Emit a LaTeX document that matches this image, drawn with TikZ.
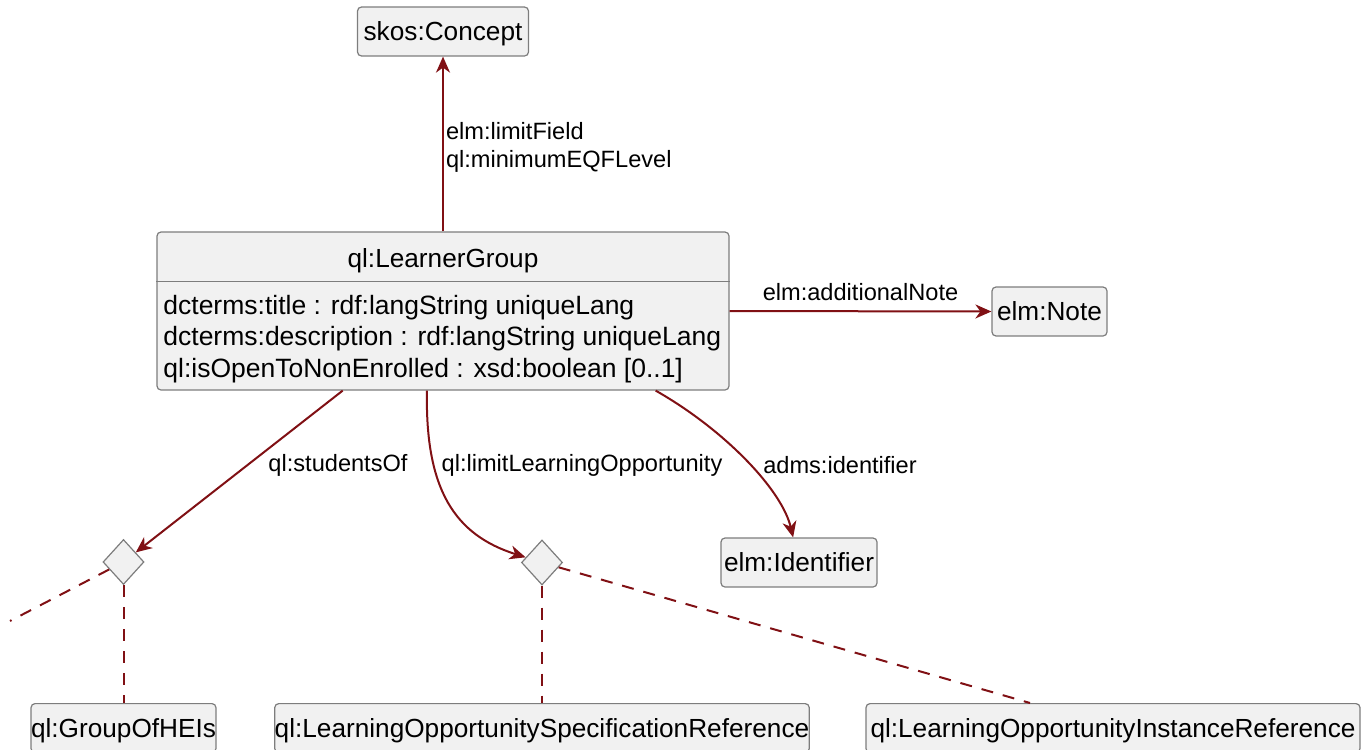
\documentclass[tikz,border=0pt]{standalone}
\usepackage{fontspec}
\setmainfont{Liberation Sans}
\usetikzlibrary{positioning,calc,shapes.geometric,arrows.meta}
\definecolor{linkred}{RGB}{128,16,20}
\definecolor{boxfill}{RGB}{241,241,241}
\definecolor{boxline}{RGB}{125,125,125}
\tikzset{class text/.style={font=\fontsize{13.1}{15.75}\selectfont},
         class node/.style={rectangle,rounded corners=2pt,draw=boxline,fill=boxfill,line width=0.6pt,
                            minimum height=24.5pt,inner sep=0pt,text height=10.5pt,text depth=1.2pt,class text},
         choice node/.style={diamond,draw=boxline,fill=boxfill,line width=0.6pt,
                             minimum width=20.5pt,minimum height=22.5pt,inner sep=0pt},
         label node/.style={font=\fontsize{11.8}{14}\selectfont,inner sep=0pt,align=left},
         link/.style={draw=linkred,line width=1pt,-{Stealth[length=8pt,width=7pt,inset=2.5pt]}},
         dash link/.style={draw=linkred,line width=1pt,dash pattern=on 6pt off 5pt},
            }

\begin{document}
\begin{tikzpicture}[x=0.5pt,y=-0.5pt]
    \useasboundingbox (0,0) rectangle (1367,750);
    \clip (0,0) rectangle (1367,750);

    \node[class node,minimum width=85.5pt] (skos) at (443,31.5) {skos:Concept};
    \node[class node,minimum width=286pt,minimum height=79pt] (lg) at (443,311) {};
    \draw[boxline,line width=0.6pt] ($(lg.north west)+(0,50)$) -- ($(lg.north east)+(0,50)$);
    \node[class text,inner sep=0pt] (lgName) at (443,261) {ql:LearnerGroup};
    \node[class text,inner sep=0pt,align=left,anchor=west,font=\fontsize{13.25}{15.75}\selectfont] (lgAttr) at (163,339)
        {dcterms:title : rdf:langString uniqueLang\\
         dcterms:description : rdf:langString uniqueLang\\
         ql:isOpenToNonEnrolled : xsd:boolean [0..1]};
    \node[class node,minimum width=57.5pt] (note) at (1049.5,311.5) {elm:Note};
    \node[class node,minimum width=78pt] (ident) at (799,562.5) {elm:Identifier};
    \node[choice node] (d1) at (123.5,562) {};
    \node[choice node] (d2) at (542,562.5) {};
    \node[class node,minimum width=91.5pt,anchor=north] (hei) at (123.5,703) {ql:GroupOfHEIs};
    \node[class node,minimum width=266.5pt,anchor=north] (losr) at (542,703) {ql:LearningOpportunitySpecificationReference};
    \node[class node,minimum width=247pt,anchor=north] (loir) at (1113,703) {ql:LearningOpportunityInstanceReference};

    \coordinate (offL) at (10,621);
    \coordinate (loirTop) at (1030,703);

    \draw[link] (lg.north) -- node[label node,anchor=west,xshift=1pt,yshift=-1.5pt] {elm:limitField\\ql:minimumEQFLevel} (skos.south);
    \draw[link] (lg.east) -- node[label node,above=5pt] {elm:additionalNote} (note.west);
    \draw[link] ($(lg.south west)!.325!(lg.south east)$) -- (d1);
    \draw[link] ($(lg.south west)!.472!(lg.south east)$) .. controls (425,490) and (455,535) .. (d2);
    \draw[link] ($(lg.south west)!.871!(lg.south east)$) .. controls (725,430) and (782,490) .. (ident);

    \node[label node] (lblStudents) at (338,465) {ql:studentsOf};
    \node[label node] (lblLimitLO) at (582,465) {ql:limitLearningOpportunity};
    \node[label node] (lblIdent) at (840,465) {adms:identifier};

    \draw[dash link] (d1) -- (offL);
    \draw[dash link] (d1) -- (hei);
    \draw[dash link] (d2) -- (losr);
    \draw[dash link] (d2) -- (loirTop);
\end{tikzpicture}
\end{document}
